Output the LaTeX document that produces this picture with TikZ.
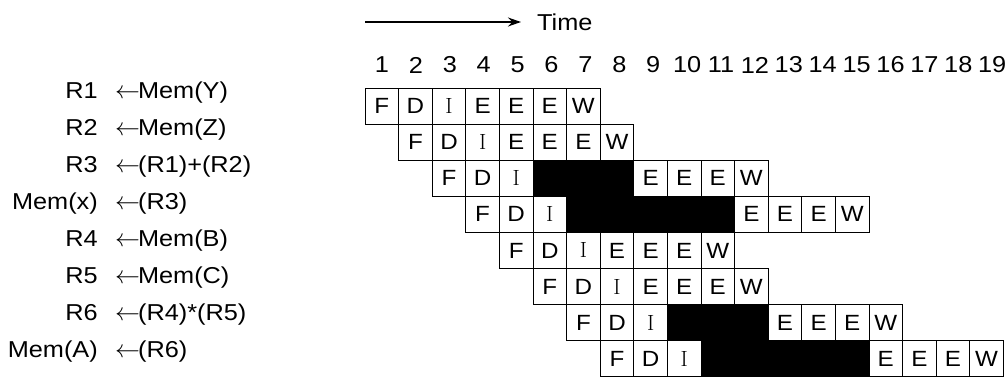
\documentclass[tikz,border=0pt]{standalone}
\usepackage{fontspec}
\newfontfamily\hel[FakeStretch=1.1]{Liberation Sans}
\usetikzlibrary{arrows.meta}
\newcommand{\si}{{\rmfamily I}} % the boxes print a serif I

\begin{document}
\begin{tikzpicture}[
    x=1pt, y=-1pt,
    font=\hel\fontsize{23}{27}\selectfont,
    cell/.style={rectangle, draw, line width=1pt, minimum width=33.6pt, minimum height=36.1pt, inner sep=0pt,
      font=\hel\fontsize{22}{26}\selectfont},
    stall/.style={cell, fill=black},
    instr/.style={inner sep=0pt},
    arrow/.style={-{Stealth[length=13pt,width=9pt]}, line width=1.2pt}
]
\useasboundingbox (0,0) rectangle (1008,378);

% time axis
\coordinate (tstart) at (365,22);
\node[instr, anchor=west] (time) at (537,22) {Time};
\draw[arrow, shorten >=16pt] (tstart) -- (time);

% clock cycles
\foreach \n in {1,...,19}
  \node[instr] (clk\n) at ({382+(\n-1)*33.9},65) {\n};

% instruction sequence
\foreach \dst/\src [count=\i] in {R1/{Mem(Y)}, R2/{Mem(Z)}, R3/{(R1)+(R2)}, Mem(x)/{(R3)},
    R4/{Mem(B)}, R5/{Mem(C)}, R6/{(R4)*(R5)}, Mem(A)/{(R6)}} {
  \node[instr, anchor=base east] (dst\i) at (98,{98.3+37*(\i-1)}) {\dst};
  \node[instr, anchor=base west] (src\i) at (115,{98.3+37*(\i-1)}) {$\leftarrow$\kern-2pt\src};
}

% pipeline stages, one row per instruction
\foreach \r/\seq in {1/{F,D,\si,E,E,E,W}, 2/{F,D,\si,E,E,E,W},
    3/{F,D,\si,{},{},{},E,E,E,W}, 4/{F,D,\si,{},{},{},{},{},E,E,E,W},
    5/{F,D,\si,E,E,E,W}, 6/{F,D,\si,E,E,E,W},
    7/{F,D,\si,{},{},{},E,E,E,W}, 8/{F,D,\si,{},{},{},{},{},E,E,E,W}}
  \foreach \s [count=\k from \r] in \seq
    \node[cell] (c\r-\k) at ({365+33.6*(\k-0.5)},{88+36.1*(\r-0.5)}) {\s};

% stalls
\foreach \r/\a/\b in {3/6/8, 4/7/11, 7/10/12, 8/11/15}
  \foreach \k in {\a,...,\b}
    \node[stall] (s\r-\k) at ({365+33.6*(\k-0.5)},{88+36.1*(\r-0.5)}) {};
\end{tikzpicture}
\end{document}
